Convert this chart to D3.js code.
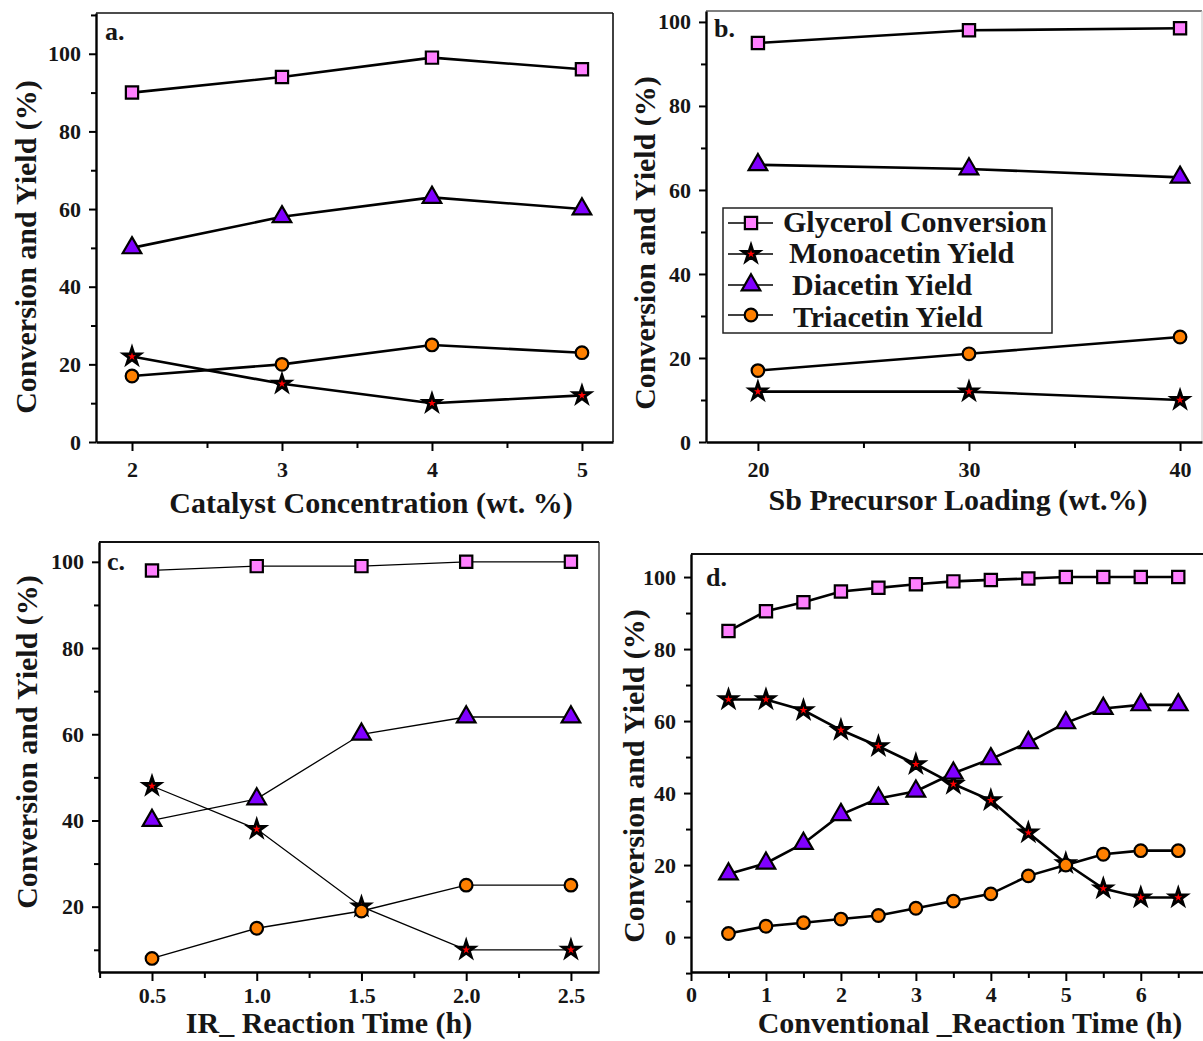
<!DOCTYPE html>
<html>
<head>
<meta charset="utf-8">
<script src="https://cdn.jsdelivr.net/npm/d3@7/dist/d3.min.js"></script>
<style>
  html, body { margin: 0; padding: 0; background: #ffffff; }
  svg { display: block; }
  text { font-family: "Liberation Serif", "Times New Roman", serif; fill: #161616; }
</style>
</head>
<body>
<svg id="chart" width="1203" height="1041"></svg>
<script>
// ---- series names (legend order) ----
const seriesNames = ["Glycerol Conversion", "Monoacetin Yield", "Diacetin Yield", "Triacetin Yield"];

// ---- (a) catalyst concentration, wt. % ----
const catalystConc = [2, 3, 4, 5];
const aGlycerol = [90, 94, 99, 96];
const aMono     = [22, 15, 10, 12];
const aDi       = [50, 58, 63, 60];
const aTri      = [17, 20, 25, 23];

// ---- (b) Sb precursor loading, wt.% ----
const sbLoading = [20, 30, 40];
const bGlycerol = [95, 98, 98.5];
const bMono     = [12, 12, 10];
const bDi       = [66, 65, 63];
const bTri      = [17, 21, 25];

// ---- (c) IR reaction time, h ----
const irTime    = [0.5, 1.0, 1.5, 2.0, 2.5];
const cGlycerol = [98, 99, 99, 100, 100];
const cMono     = [48, 38, 20, 10, 10];
const cDi       = [40, 45, 60, 64, 64];
const cTri      = [8, 15, 19, 25, 25];

// ---- (d) conventional reaction time, h ----
const convTime  = [0.5, 1, 1.5, 2, 2.5, 3, 3.5, 4, 4.5, 5, 5.5, 6, 6.5];
const dGlycerol = [85, 90.5, 93, 96, 97, 98, 98.8, 99.2, 99.6, 100, 100, 100, 100];
const dMono     = [66, 66, 63, 57.5, 53, 48, 42.5, 38, 29, 20.5, 13.5, 11, 11];
const dDi       = [17.5, 20.5, 26, 34, 38.5, 40.5, 45.5, 49.5, 54, 59.5, 63.5, 64.5, 64.5];
const dTri      = [1, 3, 4, 5, 6, 8, 10, 12, 17, 20, 23, 24, 24];

// ---- tick values ----
const aXMajor = [2, 3, 4, 5],            aXMinor = [2.5, 3.5, 4.5];
const bXMajor = [20, 30, 40],            bXMinor = [25, 35];
const cXMajor = [0.5, 1.0, 1.5, 2.0, 2.5], cXMinor = [0.25, 0.75, 1.25, 1.75, 2.25];
const dXMajor = [0, 1, 2, 3, 4, 5, 6],   dXMinor = [0.5, 1.5, 2.5, 3.5, 4.5, 5.5, 6.5];
const yMajor  = [0, 20, 40, 60, 80, 100];
const aYMinor = [10, 30, 50, 70, 90, 110];
const bYMinor = [10, 30, 50, 70, 90];
const cYMajor = [20, 40, 60, 80, 100],   cYMinor = [10, 30, 50, 70, 90];
const dYMinor = [-10, 10, 30, 50, 70, 90];

// marker styles per series
const markerStyle = [
  { type: d3.symbolSquare,   size: 150, fill: "#ff80ff", sw: 2.2 },
  { type: d3.symbolStar,     size: 85,  fill: "#ff0000", sw: 2.8 },
  { type: d3.symbolTriangle, size: 150, fill: "#8000ff", sw: 2.2 },
  { type: d3.symbolCircle,   size: 125, fill: "#ff8000", sw: 2.2 }
];

const svg = d3.select("#chart");

const panels = [
  { label: "a.", x: catalystConc, ys: [aGlycerol, aMono, aDi, aTri],
    xDomain: [1.76, 5.207], yDomain: [0, 110.5],
    left: 96, right: 613, top: 13, bottom: 442,
    xMajor: aXMajor, xMinor: aXMinor, xFmt: d3.format("d"),
    yMajor: yMajor, yMinor: aYMinor, tickPad: 10,
    xTitle: "Catalyst Concentration (wt. %)", xTitleX: 371, xTitleY: 513,
    yTitleX: 36, yTitleY: 247, labelX: 105, labelY: 40,
    lineW: 2.6, topColor: "#111", rightColor: "#111", rightW: 1.6, topW: 1.6 },
  { label: "b.", x: sbLoading, ys: [bGlycerol, bMono, bDi, bTri],
    xDomain: [17.54, 41.04], yDomain: [0, 102.6],
    left: 706, right: 1202, top: 11, bottom: 442,
    xMajor: bXMajor, xMinor: bXMinor, xFmt: d3.format("d"),
    yMajor: yMajor, yMinor: bYMinor, tickPad: 10,
    xTitle: "Sb Precursor Loading (wt.%)", xTitleX: 958, xTitleY: 510,
    yTitleX: 655, yTitleY: 243, labelX: 714, labelY: 37,
    lineW: 2.6, topColor: "#555", rightColor: "#cfcfcf", rightW: 1.2, topW: 1.4, legend: true },
  { label: "c.", x: irTime, ys: [cGlycerol, cMono, cDi, cTri],
    xDomain: [0.247, 2.634], yDomain: [4.85, 104.6],
    left: 99, right: 599, top: 542, bottom: 972,
    xMajor: cXMajor, xMinor: cXMinor, xFmt: d3.format(".1f"),
    yMajor: cYMajor, yMinor: cYMinor, tickPad: 6,
    xTitle: "IR_ Reaction Time (h)", xTitleX: 329, xTitleY: 1033,
    yTitleX: 37, yTitleY: 742, labelX: 107, labelY: 570,
    lineW: 1.3, topColor: "#111", rightColor: "#111", rightW: 1.2, topW: 2 },
  { label: "d.", x: convTime, ys: [dGlycerol, dMono, dDi, dTri],
    xDomain: [0, 6.83], yDomain: [-9.7, 106.4],
    left: 691, right: 1203, top: 554, bottom: 972,
    xMajor: dXMajor, xMinor: dXMinor, xFmt: d3.format("d"),
    yMajor: yMajor, yMinor: dYMinor, tickPad: 5,
    xTitle: "Conventional _Reaction Time (h)", xTitleX: 970, xTitleY: 1033,
    yTitleX: 644, yTitleY: 776, labelX: 706, labelY: 586,
    lineW: 2.6, topColor: "#111", rightColor: "none", rightW: 0, topW: 2 }
];

function drawMarker(g, style, px, py) {
  g.append("path")
    .attr("d", d3.symbol().type(style.type).size(style.size)())
    .attr("transform", `translate(${px},${py})`)
    .attr("fill", style.fill)
    .attr("stroke", "#000")
    .attr("stroke-width", style.sw)
    .attr("stroke-linejoin", "miter");
}

panels.forEach(p => {
  const g = svg.append("g");
  const x = d3.scaleLinear().domain(p.xDomain).range([p.left, p.right]);
  const y = d3.scaleLinear().domain(p.yDomain).range([p.bottom, p.top]);

  // top and right frame
  g.append("line").attr("x1", p.left).attr("x2", p.right).attr("y1", p.top).attr("y2", p.top)
    .attr("stroke", p.topColor).attr("stroke-width", p.topW);
  if (p.rightW > 0) {
    g.append("line").attr("x1", p.right).attr("x2", p.right).attr("y1", p.top).attr("y2", p.bottom)
      .attr("stroke", p.rightColor).attr("stroke-width", p.rightW);
  }

  // bottom axis: major ticks with labels, then minor ticks
  g.append("g").attr("transform", `translate(0,${p.bottom})`)
    .call(d3.axisBottom(x).tickValues(p.xMajor).tickFormat(p.xFmt).tickSize(9).tickPadding(p.tickPad).tickSizeOuter(0));
  g.append("g").attr("transform", `translate(0,${p.bottom})`)
    .call(d3.axisBottom(x).tickValues(p.xMinor).tickFormat("").tickSize(6).tickSizeOuter(0))
    .select(".domain").remove();

  // left axis
  g.append("g").attr("transform", `translate(${p.left},0)`)
    .call(d3.axisLeft(y).tickValues(p.yMajor).tickFormat(d3.format("d")).tickSize(7).tickPadding(8).tickSizeOuter(0));
  g.append("g").attr("transform", `translate(${p.left},0)`)
    .call(d3.axisLeft(y).tickValues(p.yMinor).tickFormat("").tickSize(5).tickSizeOuter(0))
    .select(".domain").remove();

  g.selectAll(".domain").attr("stroke", "#000").attr("stroke-width", 2.4);
  g.selectAll(".tick line").attr("stroke", "#000").attr("stroke-width", 2);
  g.selectAll(".tick text")
    .style("font-family", "'Liberation Serif', 'Times New Roman', serif")
    .style("font-size", "22px").style("font-weight", "bold").attr("fill", "#1a1a1a");

  // axis titles
  g.append("text").attr("x", p.xTitleX).attr("y", p.xTitleY)
    .attr("text-anchor", "middle").style("font-size", "30px").style("font-weight", "bold")
    .text(p.xTitle);
  g.append("text")
    .attr("transform", `translate(${p.yTitleX},${p.yTitleY}) rotate(-90)`)
    .attr("text-anchor", "middle").style("font-size", "30px").style("font-weight", "bold")
    .text("Conversion and Yield (%)");

  // panel label
  g.append("text").attr("x", p.labelX).attr("y", p.labelY)
    .style("font-size", "26px").style("font-weight", "bold").text(p.label);

  // series: line then markers, in legend order
  const line = d3.line().x(d => x(d[0])).y(d => y(d[1]));
  p.ys.forEach((vals, si) => {
    const pts = p.x.map((xv, i) => [xv, vals[i]]);
    g.append("path").datum(pts).attr("d", line)
      .attr("fill", "none").attr("stroke", "#000").attr("stroke-width", p.lineW);
    pts.forEach(pt => drawMarker(g, markerStyle[si], x(pt[0]), y(pt[1])));
  });

  // legend
  if (p.legend) {
    const lg = g.append("g");
    lg.append("rect").attr("x", 723).attr("y", 208).attr("width", 329).attr("height", 125)
      .attr("fill", "#fff").attr("stroke", "#222").attr("stroke-width", 1.5);
    const rowY = [223, 254, 285, 315];
    const textY = [232, 263, 295, 327];
    const textX = [783, 789, 792, 793];
    seriesNames.forEach((name, i) => {
      lg.append("line").attr("x1", 728).attr("x2", 773).attr("y1", rowY[i]).attr("y2", rowY[i])
        .attr("stroke", "#000").attr("stroke-width", 1.6);
      drawMarker(lg, markerStyle[i], 751, rowY[i]);
      lg.append("text").attr("x", textX[i]).attr("y", textY[i])
        .style("font-size", "30px").style("font-weight", "bold").text(name);
    });
  }
});
</script>
</body>
</html>
